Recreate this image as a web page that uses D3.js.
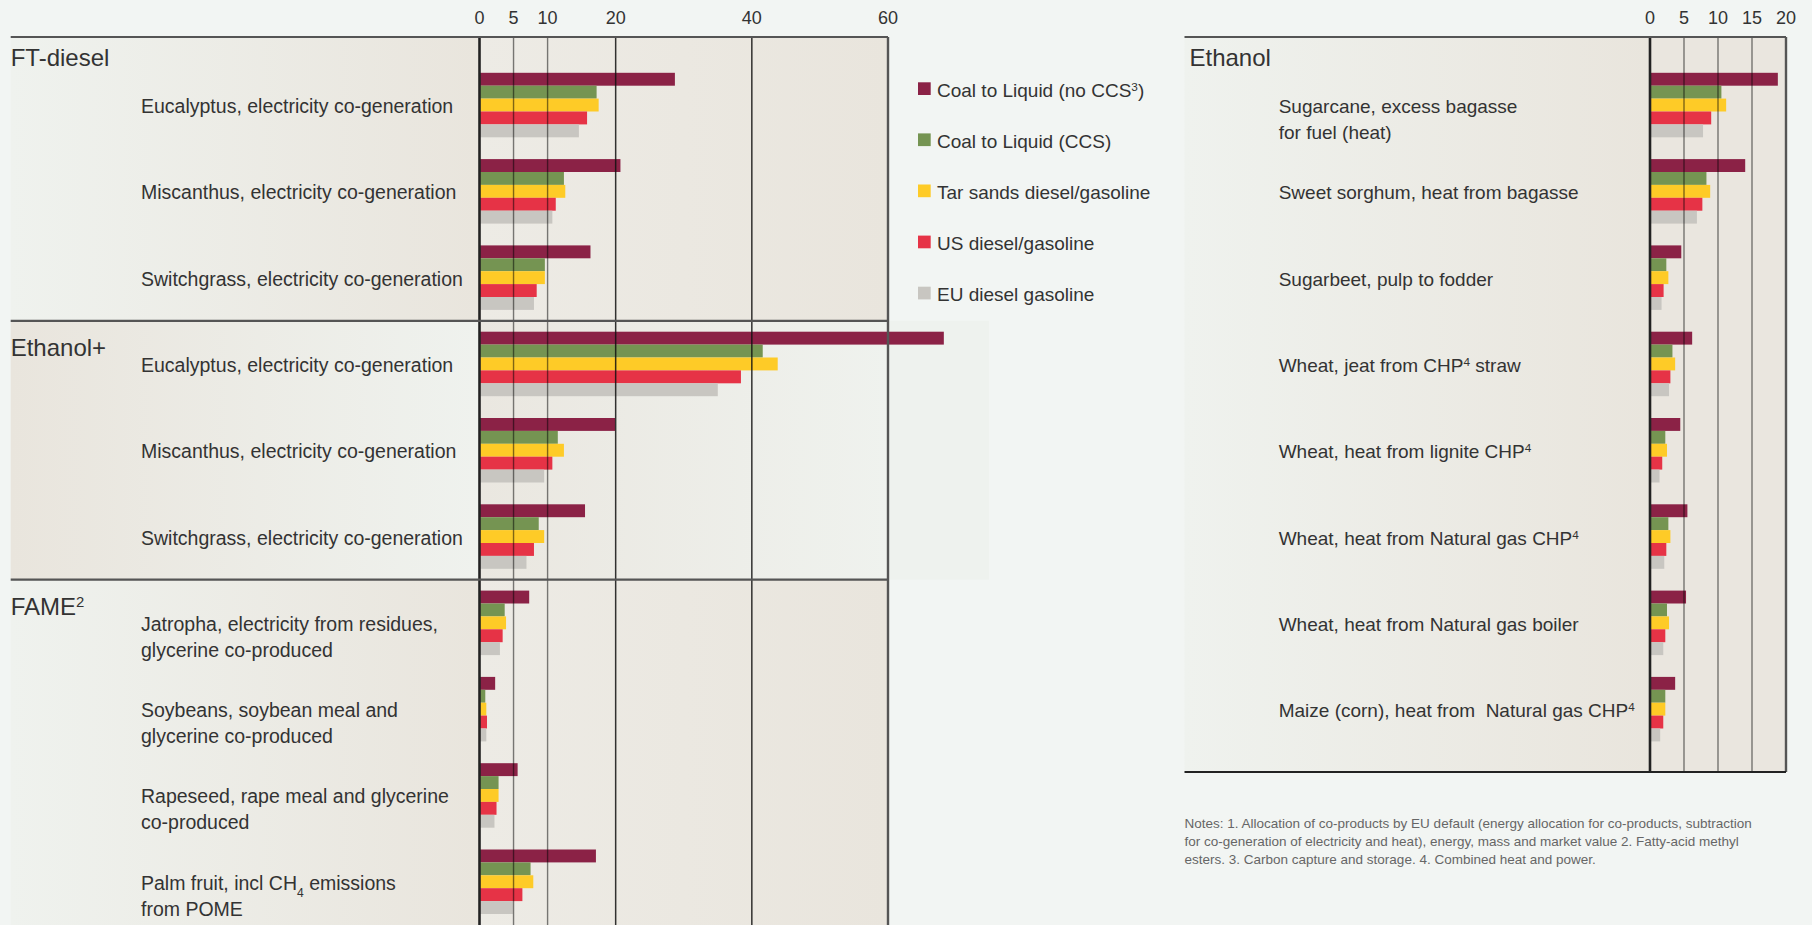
<!DOCTYPE html>
<html>
<head>
<meta charset="utf-8">
<script src="https://cdn.jsdelivr.net/npm/d3@7"></script>
<style>
  body { margin: 0; background: #f2f5f3; }
  text { font-family: "Liberation Sans", Arial, sans-serif; fill: #333; white-space: pre; }
</style>
</head>
<body>
<svg id="chart" width="1812" height="925"></svg>
<script>
//series, in the order the bars are stacked inside each group
const seriesNames = ["Coal to Liquid (no CCS^3)", "Coal to Liquid (CCS)", "Tar sands diesel/gasoline", "US diesel/gasoline", "EU diesel gasoline"]
const seriesColors = ["#8b2246", "#759452", "#fecb27", "#e63346", "#c8c6c1"]

//tick labels
const leftTicks = [0, 5, 10, 20, 40, 60]
const rightTicks = [0, 5, 10, 15, 20]

//left panel: sections and rows
const leftSections = ["FT-diesel", "Ethanol+", "FAME^2"]
const leftSectionOf = [0, 0, 0, 1, 1, 1, 2, 2, 2, 2]
const leftLabels = [
  "Eucalyptus, electricity co-generation",
  "Miscanthus, electricity co-generation",
  "Switchgrass, electricity co-generation",
  "Eucalyptus, electricity co-generation",
  "Miscanthus, electricity co-generation",
  "Switchgrass, electricity co-generation",
  "Jatropha, electricity from residues,\nglycerine co-produced",
  "Soybeans, soybean meal and\nglycerine co-produced",
  "Rapeseed, rape meal and glycerine\nco-produced",
  "Palm fruit, incl CH_4 emissions\nfrom POME"
]
const leftValues = [
  [28.7, 17.2, 17.5, 15.8, 14.6],
  [20.7, 12.4, 12.6, 11.2, 10.7],
  [16.3, 9.6, 9.6, 8.4, 8.0],
  [68.2, 41.6, 43.8, 38.4, 35.0],
  [19.9, 11.5, 12.4, 10.7, 9.5],
  [15.5, 8.7, 9.5, 8.0, 6.9],
  [7.3, 3.7, 3.9, 3.4, 3.0],
  [2.3, 0.85, 1.0, 1.1, 1.0],
  [5.6, 2.8, 2.8, 2.5, 2.2],
  [17.1, 7.5, 7.9, 6.3, 4.9]
]

//right panel: ethanol rows
const rightSection = "Ethanol"
const rightLabels = [
  "Sugarcane, excess bagasse\nfor fuel (heat)",
  "Sweet sorghum, heat from bagasse",
  "Sugarbeet, pulp to fodder",
  "Wheat, jeat from CHP^4 straw",
  "Wheat, heat from lignite CHP^4",
  "Wheat, heat from Natural gas CHP^4",
  "Wheat, heat from Natural gas boiler",
  "Maize (corn), heat from  Natural gas CHP^4"
]
const rightValues = [
  [18.8, 10.5, 11.2, 9.0, 7.8],
  [14.0, 8.3, 8.85, 7.7, 6.9],
  [4.6, 2.4, 2.7, 2.0, 1.7],
  [6.2, 3.3, 3.7, 3.0, 2.8],
  [4.45, 2.25, 2.5, 1.8, 1.4],
  [5.5, 2.7, 3.0, 2.4, 2.1],
  [5.3, 2.5, 2.8, 2.25, 1.95],
  [3.7, 2.25, 2.25, 1.95, 1.5]
]

const notes = [
  "Notes: 1. Allocation of co-products by EU default (energy allocation for co-products, subtraction",
  "for co-generation of electricity and heat), energy, mass and market value 2. Fatty-acid methyl",
  "esters. 3. Carbon capture and storage. 4. Combined heat and power."
]

//layout
const W = 1812, H = 925
const topLine = 37
const leftPanelX = 10.7, rightPanelX = 1184.5
const rightBottom = 772
const light = "#eff2ee", beige = "#e9e5dd"

const svg = d3.select("#chart")
svg.style("background", "#f2f5f3")

//scales
const xL = d3.scaleLinear().domain([0, 60]).range([479.5, 888])
const xR = d3.scaleLinear().domain([0, 20]).range([1650, 1786])
const y = d3.scaleBand()
  .domain(d3.range(leftValues.length))
  .range([61.9, 924.9])
  .paddingInner(0.2526)
  .paddingOuter(0.1263)
const sub = d3.scaleBand()
  .domain(d3.range(seriesNames.length))
  .range([0, y.bandwidth()])
const gap = y.step() * y.paddingInner() / 2

//text with ^n superscripts and _n subscripts
function rich(sel, str) {
  str.split(/(\^\d|_\d)/).filter(s => s.length).forEach(p => {
    if (p[0] == '^') sel.append("tspan").attr("baseline-shift", "super").attr("font-size", "0.62em").text(p.slice(1))
    else if (p[0] == '_') sel.append("tspan").attr("baseline-shift", "sub").attr("font-size", "0.62em").text(p.slice(1))
    else sel.append("tspan").text(p)
  })
}

//gradients
const defs = svg.append("defs")
function grad(id, c0, c1) {
  const g = defs.append("linearGradient").attr("id", id).attr("x1", "0").attr("x2", "1").attr("y1", "0").attr("y2", "0")
  g.append("stop").attr("offset", "0").attr("stop-color", c0)
  g.append("stop").attr("offset", "1").attr("stop-color", c1)
}
grad("lb", light, beige)
grad("bl", beige, light)
grad("pb", "#edebe5", beige)
grad("bp", "#eae7e0", light)

//section extents on the left
const secTop = leftSections.map((s, i) => {
  const first = leftSectionOf.indexOf(i)
  return i == 0 ? topLine : y(first) - gap
})
const secBottom = secTop.map((t, i) => i < secTop.length - 1 ? secTop[i + 1] : H)

const bg = svg.append("g")
leftSections.forEach((s, i) => {
  const flip = i == 1
  bg.append("rect")
    .attr("x", leftPanelX).attr("y", secTop[i])
    .attr("width", xL(0) - leftPanelX).attr("height", secBottom[i] - secTop[i])
    .attr("fill", flip ? "url(#bl)" : "url(#lb)")
  bg.append("rect")
    .attr("x", xL(0)).attr("y", secTop[i])
    .attr("width", xL(60) - xL(0)).attr("height", secBottom[i] - secTop[i])
    .attr("fill", flip ? "url(#bp)" : "url(#pb)")
})
//light box behind the long Ethanol+ bar
bg.append("rect")
  .attr("x", xL(60)).attr("y", secTop[1])
  .attr("width", 101).attr("height", secBottom[1] - secTop[1])
  .attr("fill", "#eef2ee")

//right panel background
bg.append("rect")
  .attr("x", rightPanelX).attr("y", topLine)
  .attr("width", xR(0) - rightPanelX).attr("height", rightBottom - topLine)
  .attr("fill", "url(#lb)")
bg.append("rect")
  .attr("x", xR(0)).attr("y", topLine)
  .attr("width", xR(20) - xR(0)).attr("height", rightBottom - topLine)
  .attr("fill", "#eae6df")

//bars
function drawBars(values, x) {
  const g = svg.append("g")
  values.forEach((vals, r) => {
    g.selectAll(null)
      .data(vals)
      .join("rect")
        .attr("x", x(0))
        .attr("y", (d, k) => y(r) + sub(k))
        .attr("width", d => x(d) - x(0))
        .attr("height", sub.bandwidth())
        .attr("fill", (d, k) => seriesColors[k])
  })
}
drawBars(leftValues, xL)
drawBars(rightValues, xR)

//grid lines on top of the bars
function drawGrid(ticks, x, y0, y1, max, minorIsThin) {
  const g = svg.append("g")
  ticks.forEach(t => {
    let stroke = "#000", width = 1.4, op = 0.5
    if (t == 0) { stroke = "#222"; width = 2.6; op = 1 }
    else if (t == max) { stroke = "#555"; width = 2.4; op = 1 }
    else if (!minorIsThin(t)) { stroke = "#111"; width = 1.5; op = 0.85 }
    g.append("line")
      .attr("x1", x(t)).attr("x2", x(t))
      .attr("y1", y0).attr("y2", y1)
      .attr("stroke", stroke).attr("stroke-width", width).attr("stroke-opacity", op)
  })
}
drawGrid(leftTicks, xL, topLine, H, 60, t => t < 20)
drawGrid(rightTicks, xR, topLine, rightBottom, 20, t => true)

//horizontal rules
const rules = svg.append("g").attr("stroke", "#555").attr("stroke-width", 2.2)
secTop.forEach(t => rules.append("line").attr("x1", leftPanelX).attr("x2", xL(60)).attr("y1", t).attr("y2", t))
rules.append("line").attr("x1", rightPanelX).attr("x2", xR(20)).attr("y1", topLine).attr("y2", topLine)
rules.append("line").attr("x1", rightPanelX).attr("x2", xR(20)).attr("y1", rightBottom).attr("y2", rightBottom).attr("stroke", "#222")

//tick labels
function drawTicks(ticks, x) {
  svg.append("g").selectAll("text")
    .data(ticks)
    .join("text")
      .attr("x", d => x(d))
      .attr("y", 23.5)
      .attr("text-anchor", "middle")
      .attr("font-size", 18)
      .text(d => d)
}
drawTicks(leftTicks, xL)
drawTicks(rightTicks, xR)

//section headers
leftSections.forEach((s, i) => {
  const t = svg.append("text")
    .attr("x", leftPanelX)
    .attr("y", secTop[i] + (i == 0 ? 29 : 35.5))
    .attr("font-size", 24)
  rich(t, s)
})
svg.append("text")
  .attr("x", rightPanelX + 5)
  .attr("y", topLine + 29)
  .attr("font-size", 24)
  .text(rightSection)

//row labels
function drawLabels(labels, x0, size) {
  labels.forEach((lab, r) => {
    const cy = y(r) + y.bandwidth() / 2
    lab.split("\n").forEach((line, j) => {
      const t = svg.append("text")
        .attr("x", x0)
        .attr("y", cy + 8 + j * 26)
        .attr("font-size", size)
      rich(t, line)
    })
  })
}
drawLabels(leftLabels, 141, 19.5)
drawLabels(rightLabels, 1278.7, 19)

//legend
const legend = svg.append("g").attr("transform", "translate(918, 82.3)")
seriesNames.forEach((name, i) => {
  legend.append("rect")
    .attr("x", 0).attr("y", i * 51.1)
    .attr("width", 12.7).attr("height", 12.7)
    .attr("fill", seriesColors[i])
  const t = legend.append("text")
    .attr("x", 19).attr("y", i * 51.1 + 14.3)
    .attr("font-size", 19)
  rich(t, name)
})

//notes
svg.append("g").selectAll("text")
  .data(notes)
  .join("text")
    .attr("x", rightPanelX)
    .attr("y", (d, i) => 828.3 + i * 18)
    .attr("font-size", 13.5)
    .style("fill", "#666")
    .text(d => d)
</script>
</body>
</html>
